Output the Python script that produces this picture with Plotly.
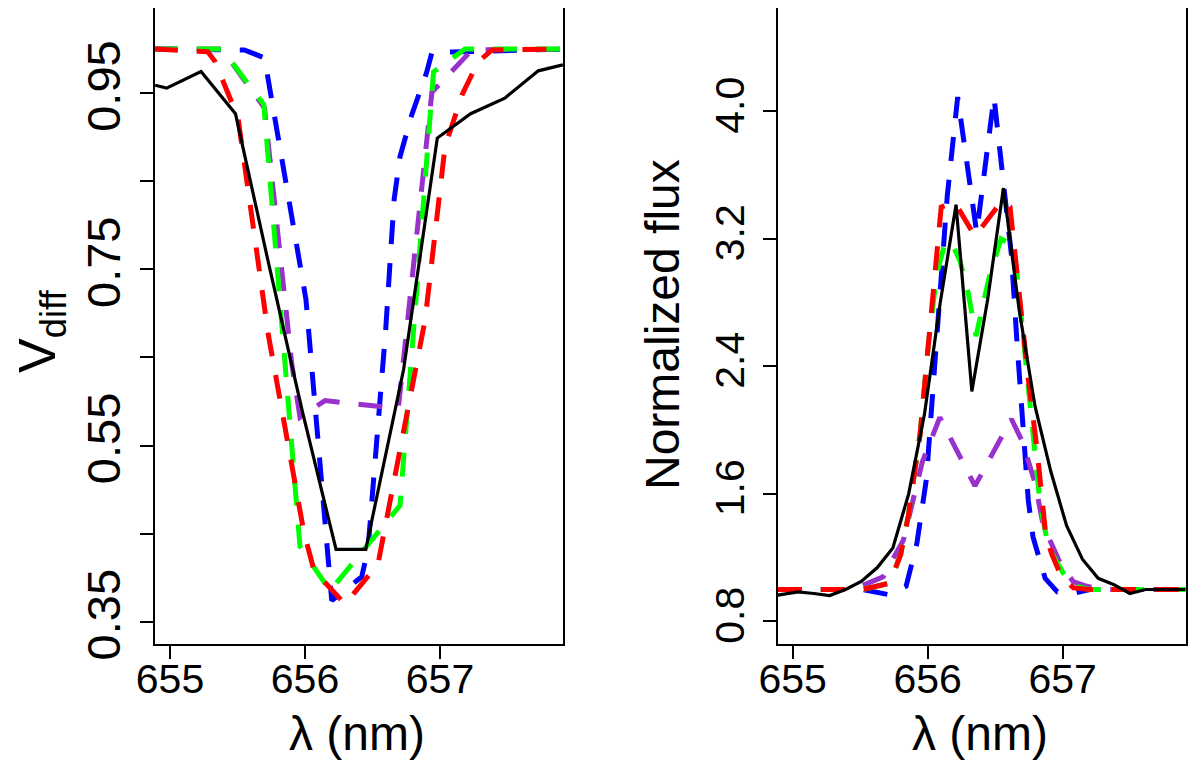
import plotly.graph_objects as go

# ---- left panel: V_diff vs wavelength ----
lam_obs_v = [654.89, 654.975, 655.23, 655.485, 655.73, 655.98, 656.23, 656.45,
             656.73, 656.98, 657.227, 657.48, 657.728, 657.91]
vdiff_obs = [0.959, 0.9557, 0.9745, 0.9266, 0.757, 0.589, 0.432, 0.432,
             0.636, 0.899, 0.9266, 0.9443, 0.9753, 0.982]

lam_blue_v = [654.88, 655.55, 655.70, 656.007, 656.198, 656.42, 656.467, 656.598,
              656.66, 656.704, 656.79, 656.90, 656.94, 657.92]
vdiff_blue = [1.0, 0.999, 0.99, 0.716, 0.374, 0.401, 0.433, 0.682,
              0.829, 0.878, 0.925, 0.973, 0.996, 1.0]

lam_purple_v = [654.88, 655.385, 655.70, 655.815, 655.901, 655.963, 656.148, 656.691,
                656.94, 657.237, 657.92]
vdiff_purple = [1.0, 1.0, 0.933, 0.769, 0.644, 0.582, 0.601, 0.592,
                0.951, 0.999, 1.0]

lam_green_v = [654.88, 655.385, 655.695, 655.963, 656.185, 656.704, 656.952, 657.185, 657.92]
vdiff_green = [1.0, 1.0, 0.937, 0.4355, 0.385, 0.482, 0.974, 1.0, 1.0]

lam_red_v = [654.88, 655.28, 655.333, 655.504, 655.728, 655.99, 656.067, 656.296,
             656.54, 656.89, 657.037, 657.163, 657.28, 657.385, 657.92]
vdiff_red = [1.0, 0.997, 0.986, 0.922, 0.676, 0.453, 0.408, 0.370,
             0.415, 0.693, 0.889, 0.948, 0.985, 0.999, 1.0]

# ---- right panel: normalized flux vs wavelength ----
lam_obs_f = [654.89, 655.04, 655.157, 655.274, 655.391, 655.508, 655.625, 655.742,
             655.859, 655.976, 656.093, 656.21, 656.327, 656.444, 656.561, 656.678,
             656.795, 656.912, 657.029, 657.146, 657.263, 657.38, 657.497, 657.614,
             657.731, 657.91]
flux_obs = [0.965, 0.985, 0.975, 0.962, 1.0, 1.05, 1.136, 1.26,
            1.6, 2.1, 2.8, 3.415, 2.243, 2.82, 3.519, 2.75,
            2.15, 1.74, 1.40, 1.19, 1.07, 1.03, 0.975, 1.0,
            1.0, 1.0]

lam_blue_f = [654.89, 655.52, 655.71, 655.84, 655.92, 655.99, 656.06, 656.145,
              656.222, 656.30, 656.363, 656.491, 656.565, 656.62, 656.66, 656.70,
              656.745, 656.78, 656.87, 656.96, 657.10, 657.2, 657.91]
flux_blue = [1.0, 1.0, 0.968, 1.02, 1.29, 1.69, 2.5, 3.47,
             4.09, 3.61, 3.24, 4.09, 3.53, 3.1, 2.57, 2.05,
             1.56, 1.33, 1.07, 0.985, 0.98, 1.0, 1.0]

lam_purple_f = [654.89, 655.45, 655.67, 655.745, 655.82, 655.96, 656.09, 656.35,
                656.62, 656.70, 656.795, 656.856, 656.92, 656.993, 657.078, 657.178,
                657.3, 657.91]
flux_purple = [1.0, 1.0, 1.08, 1.19, 1.31, 1.8, 2.08, 1.65,
               2.07, 1.93, 1.67, 1.40, 1.28, 1.145, 1.05, 1.02,
               1.0, 1.0]

lam_green_f = [654.89, 655.52, 655.72, 655.80, 655.856, 655.943, 656.004, 656.067,
               656.12, 656.17, 656.24, 656.30, 656.358, 656.45, 656.543, 656.634,
               656.66, 656.733, 656.778, 656.832, 656.893, 656.93, 657.054, 657.2,
               657.91]
flux_green = [1.0, 1.0, 1.04, 1.22, 1.46, 1.97, 2.53, 2.98,
              3.15, 3.19, 3.06, 2.86, 2.59, 2.94, 3.2, 3.16,
              2.99, 2.36, 1.96, 1.54, 1.27, 1.21, 1.03, 1.0,
              1.0]

lam_red_f = [654.89, 655.52, 655.72, 655.80, 655.856, 655.943, 656.004, 656.067,
             656.10, 656.20, 656.35, 656.55, 656.61, 656.68, 656.745, 656.807,
             656.876, 656.92, 656.99, 657.08, 657.2, 657.91]
flux_red = [1.0, 1.0, 1.04, 1.22, 1.46, 1.97, 2.53, 3.06,
            3.40, 3.43, 3.216, 3.44, 3.40, 2.84, 2.32, 1.90,
            1.33, 1.22, 1.08, 1.01, 1.0, 1.0]

# axis ticks
x_ticks = [655, 656, 657]
v_ticks = [0.35, 0.55, 0.75, 0.95]
v_minor_ticks = [0.45, 0.65, 0.85]
f_ticks = [0.8, 1.6, 2.4, 3.2, 4.0]

FONT = "Liberation Sans, Arial, Helvetica, sans-serif"
DASH = "24px,19px"
OFF = 8  # page body margin, the figure is drawn 8px in from the corner

fig = go.Figure()

models = [("#0000FF", lam_blue_v, vdiff_blue, lam_blue_f, flux_blue),
          ("#9932CC", lam_purple_v, vdiff_purple, lam_purple_f, flux_purple),
          ("#00FF00", lam_green_v, vdiff_green, lam_green_f, flux_green),
          ("#FF0000", lam_red_v, vdiff_red, lam_red_f, flux_red)]

for col, xl, yl, xr, yr in models:
    fig.add_trace(go.Scatter(x=xl, y=yl, mode="lines", xaxis="x", yaxis="y",
                             line=dict(color=col, width=5, dash=DASH)))
    fig.add_trace(go.Scatter(x=xr, y=yr, mode="lines", xaxis="x2", yaxis="y2",
                             line=dict(color=col, width=5, dash=DASH)))

fig.add_trace(go.Scatter(x=lam_obs_v, y=vdiff_obs, mode="lines", xaxis="x", yaxis="y",
                         line=dict(color="black", width=3.2)))
fig.add_trace(go.Scatter(x=lam_obs_f, y=flux_obs, mode="lines", xaxis="x2", yaxis="y2",
                         line=dict(color="black", width=3.2)))

frame = dict(showline=True, mirror=True, linecolor="black", linewidth=1.5,
             ticks="outside", ticklen=13, tickwidth=1.5, tickcolor="black",
             showgrid=False, zeroline=False, automargin=False)

fig.update_layout(
    width=1200, height=768,
    margin=dict(l=0, r=0, t=0, b=0, pad=0, autoexpand=False),
    paper_bgcolor="white", plot_bgcolor="white",
    showlegend=False,
    font=dict(family=FONT, color="black"),
    xaxis=dict(domain=[(155 - OFF) / 1200, (563 - OFF) / 1200], range=[654.889, 657.911],
               tickvals=x_ticks, tickfont=dict(size=41), anchor="y",
               ticklabelstandoff=-15, **frame),
    yaxis=dict(domain=[(768 - 644 + OFF) / 768, 1.0], range=[0.3247, 1.0466],
               tickvals=v_ticks, tickformat=".2f", tickangle=-90,
               minor=dict(tickvals=v_minor_ticks, ticks="outside", ticklen=13,
                          tickwidth=1.5, tickcolor="black", showgrid=False),
               tickfont=dict(size=47), anchor="x", ticklabelstandoff=1, **frame),
    xaxis2=dict(domain=[(777.7 - OFF) / 1200, (1185.7 - OFF) / 1200], range=[654.889, 657.911],
                tickvals=x_ticks, tickfont=dict(size=41), anchor="y2",
                ticklabelstandoff=-15, **frame),
    yaxis2=dict(domain=[(768 - 644 + OFF) / 768, 1.0], range=[0.658, 4.649],
                tickvals=f_ticks, tickformat=".1f", tickangle=-90,
                tickfont=dict(size=41), anchor="x2", ticklabelstandoff=3, **frame),
)

fig.add_annotation(text="V<sub>diff</sub>", textangle=-90, xref="paper", yref="paper",
                   x=(41 - OFF) / 1200, y=1 - (332 - OFF) / 768, xanchor="center",
                   yanchor="middle", showarrow=False, font=dict(size=52))
fig.add_annotation(text="Normalized flux", textangle=-90, xref="paper", yref="paper",
                   x=(662 - OFF) / 1200, y=1 - (325 - OFF) / 768, xanchor="center",
                   yanchor="middle", showarrow=False, font=dict(size=48))
for xc in (357, 980):
    fig.add_annotation(text="λ (nm)", xref="paper", yref="paper",
                       x=(xc - OFF) / 1200, y=1 - (733 - OFF) / 768, xanchor="center",
                       yanchor="middle", showarrow=False, font=dict(size=48))

fig.write_html("out.html")
